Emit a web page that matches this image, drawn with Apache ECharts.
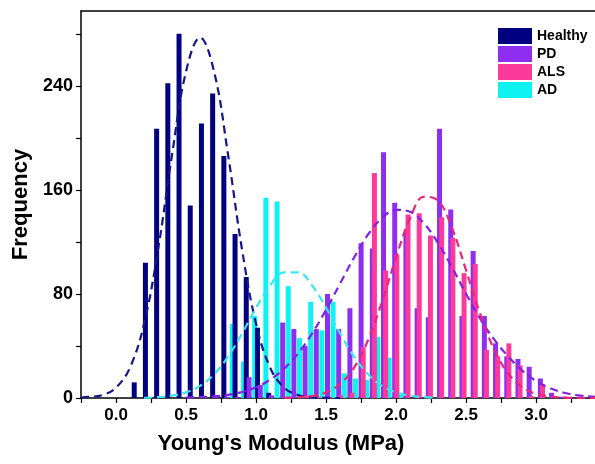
<!DOCTYPE html>
<html>
<head>
<meta charset="utf-8">
<script src="https://cdn.jsdelivr.net/npm/echarts@6/dist/echarts.min.js"></script>
<style>
html,body{margin:0;padding:0;background:#fff;}
#chart{width:595px;height:464px;}
</style>
</head>
<body>
<div id="chart"></div>
<script>
// ---- Data ----
const seriesNames = ['Healthy', 'PD', 'ALS', 'AD'];

const healthyX = [0.13,0.21,0.29,0.37,0.45,0.53,0.61,0.69,0.77,0.85,0.93,1.01,1.09];
const healthyY = [12,104,207,242,280,148,211,234,186,126,93,54,4];

const pdX = [0.71,0.79,0.87,0.95,1.03,1.11,1.19,1.27,1.35,1.43,1.51,1.59,1.67,1.75,1.83,1.91,1.99,2.07,2.15,2.23,2.31,2.39,2.47,2.55,2.63,2.71,2.79,2.87,2.95,3.03,3.11,3.19];
const pdY = [2,1,1,16,10,2,58,53,40,53,80,53,69,119,115,189,150,128,69,62,207,145,63,113,63,42,32,30,24,15,4,1];

const alsX = [1.365,1.445,1.525,1.605,1.685,1.765,1.845,1.925,2.005,2.085,2.165,2.245,2.325,2.405,2.485,2.565,2.645,2.725,2.805,2.885,2.965,3.045,3.125,3.205];
const alsY = [2,1,1,2,4,39,173,98,110,141,142,125,139,123,96,103,37,32,42,25,1.5,10.5,1,1];

const adX = [0.83,0.91,0.99,1.07,1.15,1.23,1.31,1.39,1.47,1.55,1.63,1.71,1.79,1.87,1.95,2.03];
const adY = [57,28,63,154,151,86,46,74,52,74,19,15,14,47,31,4];

// dashed fitted curves
const healthyFitX = [-0.25,-0.2,-0.1,0,0.1,0.2,0.3,0.4,0.5,0.6,0.7,0.8,0.9,1.0,1.1,1.2,1.3,1.4,1.5,1.6];
const healthyFitY = [0.2,0.8,2.2,8,23.5,57,114,187,251,277,251,187,114,57,23.5,8,2.2,0.5,0.1,0];

const pdFitX = [0.5,0.6,0.7,0.8,0.9,1.0,1.1,1.2,1.3,1.4,1.5,1.6,1.7,1.8,1.9,2.0,2.1,2.2,2.3,2.4,2.5,2.6,2.7,2.8,2.9,3.0,3.1,3.2,3.3,3.4,3.42];
const pdFitY = [0.3,0.6,1.2,2.4,4.6,8.2,14,22.5,34.3,49.6,67.9,88,108,125.7,138.5,144.6,143.1,134.1,119,100.2,80,61,45,32,21,13,7.5,4,2,1,0.9];

const alsFitX = [1.2,1.3,1.4,1.5,1.6,1.7,1.8,1.9,2.0,2.1,2.2,2.3,2.4,2.5,2.6,2.7,2.8,2.9,3.0,3.1,3.2,3.3,3.42];
const alsFitY = [0.13,0.5,1.5,4.4,10.8,23.4,44.6,74.2,108.2,138.2,154.7,151.7,130.3,98,64.6,37.3,18.9,8.3,3.2,1.1,0.3,0.1,0.1];

const adFitX = [0.2,0.3,0.4,0.5,0.6,0.7,0.8,0.9,1.0,1.1,1.2,1.3,1.4,1.5,1.6,1.7,1.8,1.9,2.0,2.1,2.2,2.3];
const adFitY = [0.2,0.65,1.8,4.3,9.3,18.2,31.8,49.6,69.3,86.5,96.6,96.6,86.5,69.3,49.6,31.8,18.2,9.3,4.3,1.8,0.65,0.2];

// axis ticks / labels
const xTickValues = [-0.25,0,0.25,0.5,0.75,1,1.25,1.5,1.75,2,2.25,2.5,2.75,3,3.25];
const xLabelValues = [0,0.5,1,1.5,2,2.5,3];
const yTickValues = [0,40,80,120,160,200,240,280];
const yLabelValues = [0,80,160,240];

// ---- Styling ----
const colors = {Healthy:'#000080', PD:'#8d2ef0', ALS:'#fb3a9c', AD:'#0ff2f2'};
const lineColors = {Healthy:'#16168a', PD:'#7f22e6', ALS:'#e8267a', AD:'#3ae6f0'};
const FONT = 'Arial, "Liberation Sans", sans-serif';

function zip(xs, ys){ return xs.map((x,i)=>[x, ys[i]]); }

function barSeries(name, xs, ys){
  return {
    name: name, type: 'bar', data: zip(xs, ys),
    barWidth: 5, barGap: '-100%',
    itemStyle: {color: colors[name]},
    emphasis: {disabled: true}
  };
}
function lineSeries(name, xs, ys){
  return {
    name: name + ' fit', type: 'line', data: zip(xs, ys),
    smooth: 0.4, showSymbol: false, symbol: 'none',
    lineStyle: {color: lineColors[name], width: 2.2, type: [8, 5]},
    z: 5, emphasis: {disabled: true}
  };
}

const chart = echarts.init(document.getElementById('chart'), null, {renderer: 'canvas'});
chart.setOption({
  backgroundColor: '#ffffff',
  animation: false,
  grid: {left: 81, right: 0, top: 11, bottom: 66, containLabel: false},
  legend: {
    data: seriesNames,
    orient: 'vertical', left: 498, top: 28,
    itemWidth: 34, itemHeight: 16, itemGap: 2, padding: 0,
    icon: 'rect',
    textStyle: {fontFamily: FONT, fontWeight: 'bold', fontSize: 14, color: '#000'}
  },
  xAxis: [{
    type: 'value', min: -0.25, max: 3.42, position: 'bottom',
    name: "Young's Modulus (MPa)", nameLocation: 'middle', nameGap: 35,
    nameTextStyle: {fontFamily: FONT, fontWeight: 'bold', fontSize: 22, color: '#000',
      padding: [0, 114, 0, 0]},
    axisLine: {show: true, onZero: false, lineStyle: {color: '#000', width: 1.5}},
    axisTick: {show: true, length: 5, customValues: xTickValues, lineStyle: {color: '#000', width: 1.2}},
    axisLabel: {show: true, customValues: xLabelValues, margin: 9,
      formatter: v => v.toFixed(1),
      fontFamily: FONT, fontWeight: 'bold', fontSize: 17, color: '#000'},
    splitLine: {show: false}
  }, {
    type: 'value', min: -0.25, max: 3.42, position: 'top',
    axisLine: {show: true, onZero: false, lineStyle: {color: '#000', width: 1.5}},
    axisTick: {show: false}, axisLabel: {show: false}, splitLine: {show: false}
  }],
  yAxis: {
    type: 'value', min: 0, max: 297.5,
    name: 'Frequency', nameLocation: 'middle', nameGap: 42, nameRotate: 90,
    nameTextStyle: {fontFamily: FONT, fontWeight: 'bold', fontSize: 22, color: '#000'},
    axisLine: {show: true, onZero: false, lineStyle: {color: '#000', width: 1.5}},
    axisTick: {show: true, length: 5, customValues: yTickValues, lineStyle: {color: '#000', width: 1.2}},
    axisLabel: {show: true, customValues: yLabelValues, margin: 8,
      fontFamily: FONT, fontWeight: 'bold', fontSize: 18, color: '#000'},
    splitLine: {show: false}
  },
  series: [
    barSeries('AD', adX, adY),
    barSeries('Healthy', healthyX, healthyY),
    barSeries('PD', pdX, pdY),
    barSeries('ALS', alsX, alsY),
    lineSeries('Healthy', healthyFitX, healthyFitY),
    lineSeries('PD', pdFitX, pdFitY),
    lineSeries('ALS', alsFitX, alsFitY),
    lineSeries('AD', adFitX, adFitY)
  ]
});
</script>
</body>
</html>
